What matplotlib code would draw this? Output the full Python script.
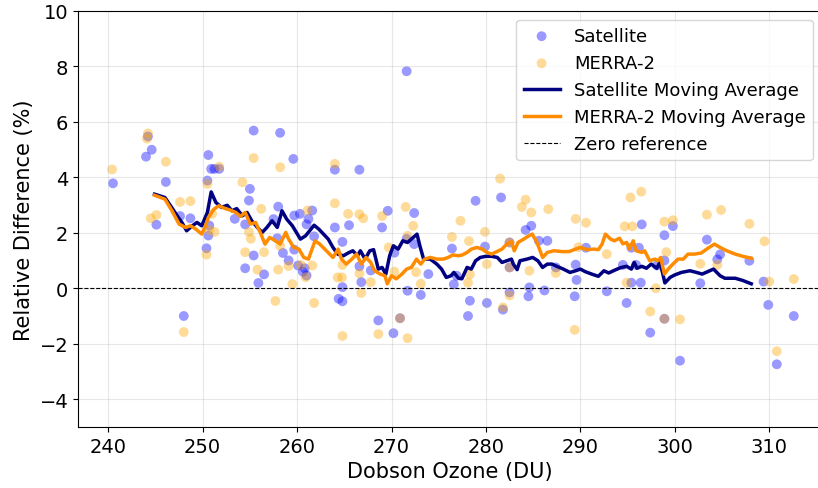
import matplotlib

matplotlib.use("Agg")
import matplotlib.pyplot as plt  # noqa: E402

# scatter points
sat_x = [240.5, 244.0, 244.2, 244.6, 245.1, 246.1, 247.6, 248.0, 248.7, 250.4,
         250.5, 250.6, 250.6, 250.7, 250.9, 251.25, 251.75, 253.4, 254.5, 254.5,
         254.9, 255.0, 255.4, 255.4, 255.9, 256.5, 257.5, 257.9, 258.0, 258.2,
         258.5, 259.1, 259.6, 259.7, 259.7, 260.1, 260.3, 260.6, 260.8, 261.0,
         261.0, 261.2, 261.6, 261.8, 264.0, 264.0, 264.4, 264.8, 264.8, 264.8,
         265.5, 266.6, 266.6, 266.8, 267.8, 268.6, 269.0, 269.6, 270.2, 270.3,
         270.9, 271.6, 271.6, 271.7, 272.4, 272.4, 273.1, 273.9, 276.4, 276.6,
         276.9, 278.1, 278.3, 278.9, 279.9, 280.1, 281.6, 281.8, 282.5, 282.5,
         282.5, 284.2, 284.5, 284.6, 284.8, 285.6, 286.2, 286.5, 287.4, 289.4,
         289.6, 289.5, 290.6, 292.8, 294.5, 294.9, 295.4, 295.4, 295.9, 296.2,
         296.4, 296.5, 297.4, 298.1, 298.9, 298.9, 298.9, 299.8, 300.55, 302.7,
         303.4, 304.5, 304.8, 307.9, 309.4, 309.9, 310.8, 312.6]
sat_y = [3.78, 4.74, 5.47, 4.99, 2.29, 3.83, 2.60, -1.00, 2.52, 1.44,
         3.88, 4.80, 1.90, 2.26, 4.30, 4.30, 4.30, 2.50, 0.72, 2.30,
         3.16, 3.58, 5.68, 1.18, 0.19, 0.50, 2.49, 1.80, 2.94, 5.60,
         1.27, 1.00, 4.66, 2.62, 1.39, 0.82, 2.68, 0.60, 0.72, 0.46,
         2.30, 2.50, 2.80, 1.87, 4.27, 2.19, -0.38, 1.67, 0.04, -0.47,
         2.27, 4.27, 0.79, 0.22, 0.64, -1.16, 2.19, 2.79, -1.62, 1.28,
         -1.08, 7.82, 1.78, -0.09, 2.71, 1.59, -0.24, 0.51, 1.43, 0.14,
         0.45, -1.00, -0.45, 3.15, 1.50, -0.53, 3.27, -0.77, -0.15, 0.75,
         1.65, 2.10, -0.29, 0.03, 2.25, 1.71, -0.08, 1.71, 0.75, -0.29,
         0.30, 0.85, 1.46, -0.11, 0.84, -0.53, 1.46, 0.20, 0.84, 1.46,
         0.20, 2.30, -1.60, 0.82, -1.10, 1.00, 1.91, 2.24, -2.61, 0.18,
         1.75, 1.04, 1.22, 0.99, 0.24, -0.60, -2.74, -1.00]

mer_x = [240.4, 244.1, 244.2, 244.5, 245.1, 246.1, 247.6, 248.0, 248.7, 250.4,
         250.5, 250.7, 251.0, 251.25, 251.75, 254.2, 254.5, 254.9, 255.1, 255.4,
         255.8, 256.2, 256.5, 257.7, 258.0, 258.2, 258.2, 259.1, 259.5, 260.4,
         260.9, 261.1, 261.6, 261.8, 264.0, 264.0, 264.3, 264.75, 264.8, 264.8,
         265.4, 266.6, 266.6, 266.8, 267.0, 267.8, 268.6, 269.0, 269.7, 270.3,
         270.9, 271.5, 271.7, 271.7, 272.3, 272.6, 273.1, 276.4, 277.3, 278.2,
         278.1, 278.3, 279.9, 280.1, 281.5, 281.8, 282.5, 282.5, 282.5, 283.8,
         284.2, 284.6, 284.8, 286.6, 287.4, 289.4, 289.5, 289.8, 290.6, 292.8,
         294.7, 294.9, 295.5, 295.3, 296.45, 297.4, 298.0, 298.9, 299.1, 298.9,
         299.8, 300.55, 302.7, 303.4, 304.5, 304.9, 307.9, 309.5, 310.0, 310.8,
         312.6]
mer_y = [4.28, 5.39, 5.58, 2.52, 2.64, 4.56, 3.11, -1.58, 3.14, 1.21,
         3.76, 2.10, 2.68, 2.03, 4.38, 3.82, 1.30, 2.03, 1.78, 4.69,
         0.67, 2.86, 1.30, -0.46, 0.67, 4.36, 1.53, 0.80, 0.15, 0.84,
         0.40, 2.80, 0.82, -0.53, 4.48, 3.06, 0.39, 0.39, 0.84, -1.72,
         2.68, 2.67, 0.53, -0.17, 2.52, 0.22, -1.65, 2.60, 1.47, 0.60,
         -1.08, 2.93, 1.89, -1.80, 2.25, 0.58, 0.16, 1.85, 2.43, 1.70,
         0.20, 0.50, 2.03, 0.87, 3.95, -0.69, -0.26, 0.75, 1.65, 2.93,
         3.19, 0.63, 2.73, 2.85, 0.55, -1.50, 2.50, 1.48, 2.36, 1.23,
         2.23, 0.20, 2.23, 3.27, 3.48, -0.84, 0.00, -1.10, 1.30, 2.40,
         2.45, -1.12, 0.88, 2.65, 0.84, 2.82, 2.32, 1.69, 0.24, -2.27,
         0.33]

# moving averages
sat_ma_x = [244.9, 246.0, 246.6, 247.3, 247.8, 248.3, 248.9, 249.4, 249.9, 250.5,
            250.9, 251.4, 252.0, 252.6, 253.1, 253.6, 254.2, 254.7, 255.2, 255.8,
            256.3, 256.8, 257.35, 257.9, 258.4, 258.9, 259.5, 260.35, 260.9, 261.8,
            262.3, 262.8, 263.3, 263.8, 264.3, 264.9, 265.4, 265.9, 266.4, 266.7,
            267.2, 267.7, 268.1, 268.6, 269.0, 269.4, 269.8, 270.2, 270.7, 271.2,
            271.7, 272.1, 272.7, 273.0, 273.4, 274.1, 274.8, 275.3, 275.8, 276.3,
            276.6, 277.1, 277.45, 278.0, 278.45, 278.9, 279.4, 280.0, 280.6, 281.2,
            281.7, 282.2, 282.7, 282.9, 283.3, 283.6, 284.35, 284.95, 285.5, 286.0,
            286.5, 287.0, 287.5, 288.2, 288.9, 289.5, 290.0, 290.5, 291.2, 291.9,
            292.5, 293.0, 293.5, 294.1, 294.35, 294.9, 295.4, 295.7, 296.0, 296.5,
            297.0, 297.5, 298.1, 298.4, 298.7, 298.95, 299.5, 300.0, 300.7, 301.6,
            302.3, 302.9, 303.5, 304.1, 304.8, 305.3, 306.4, 307.2, 308.1]
sat_ma_y = [3.39, 3.27, 2.97, 2.61, 2.37, 2.07, 2.25, 2.37, 2.25, 2.73,
            3.47, 3.09, 2.91, 2.99, 2.79, 2.87, 2.61, 2.73, 2.43, 2.19,
            2.01, 2.19, 2.43, 2.19, 2.79, 2.49, 2.25, 1.77, 1.89, 2.27,
            2.13, 1.95, 1.77, 1.47, 1.23, 1.17, 1.27, 1.35, 1.17, 1.35,
            1.05, 1.35, 1.39, 0.69, 0.75, 0.51, 1.17, 1.53, 1.41, 1.71,
            1.65, 1.77, 1.95, 1.53, 1.05, 1.05, 0.87, 0.69, 0.39, 0.45,
            0.57, 0.36, 0.34, 0.75, 0.69, 0.99, 1.11, 1.15, 1.15, 1.11,
            0.93, 0.99, 1.05, 0.87, 0.67, 0.99, 1.05, 1.11, 0.99, 0.75,
            0.87, 0.87, 0.79, 0.69, 0.57, 0.63, 0.69, 0.60, 0.51, 0.43,
            0.63, 0.55, 0.63, 0.72, 0.75, 0.79, 0.69, 0.93, 0.72, 0.79,
            0.72, 0.87, 0.72, 0.93, 0.57, 0.19, 0.39, 0.48, 0.57, 0.63,
            0.57, 0.51, 0.60, 0.69, 0.45, 0.36, 0.36, 0.28, 0.16]

mer_ma_x = [244.9, 246.0, 246.75, 247.5, 248.2, 248.7, 249.2, 249.9, 250.3, 250.6,
            251.2, 251.7, 252.4, 252.9, 253.5, 254.0, 254.5, 255.05, 255.6, 256.1,
            256.6, 257.1, 257.7, 258.2, 258.8, 259.1, 259.65, 260.2, 260.7, 261.2,
            261.9, 262.4, 263.1, 263.8, 264.35, 264.7, 265.2, 265.8, 266.3, 266.8,
            267.3, 267.8, 268.2, 268.8, 269.3, 269.55, 270.0, 270.5, 271.1, 271.6,
            272.1, 272.65, 273.1, 273.5, 274.1, 274.8, 275.5, 276.0, 276.5, 277.1,
            277.5, 278.0, 278.45, 279.05, 279.6, 280.1, 280.6, 281.7, 282.2, 282.7,
            283.0, 283.4, 284.0, 284.45, 284.9, 285.4, 286.0, 286.5, 287.2, 288.1,
            288.8, 289.5, 290.0, 290.7, 291.4, 291.9, 292.3, 292.65, 293.2, 293.6,
            294.15, 294.5, 294.9, 295.2, 295.6, 295.9, 296.5, 296.8, 297.35, 297.9,
            298.2, 298.5, 298.9, 299.3, 299.8, 300.35, 300.9, 301.4, 302.1, 302.8,
            303.5, 304.2, 304.8, 305.5, 306.4, 307.2, 308.1]
mer_ma_y = [3.35, 3.21, 2.79, 2.31, 2.19, 2.25, 2.15, 1.95, 2.25, 2.55,
            2.85, 2.97, 2.87, 2.82, 2.73, 2.59, 2.73, 2.31, 2.37, 2.01,
            1.59, 1.83, 1.71, 1.59, 2.01, 1.77, 1.47, 1.41, 1.11, 1.05,
            1.71, 1.59, 1.35, 1.11, 1.41, 1.05, 0.87, 1.05, 1.23, 0.87,
            1.11, 0.93, 0.63, 0.51, 0.45, 0.16, 0.45, 0.34, 0.51, 0.69,
            0.75, 1.05, 0.87, 1.05, 1.11, 1.05, 1.05, 1.11, 1.20, 1.17,
            1.20, 1.29, 1.41, 1.47, 1.41, 1.29, 1.23, 1.41, 1.59, 1.68,
            1.35, 1.65, 1.77, 1.87, 1.95, 1.65, 1.11, 1.29, 1.35, 1.32,
            1.32, 1.41, 1.47, 1.39, 1.41, 1.39, 1.59, 1.95, 1.77, 1.71,
            1.80, 1.60, 1.65, 1.41, 1.71, 1.35, 1.29, 1.35, 0.99, 1.05,
            0.99, 1.11, 0.51, 0.69, 0.87, 1.05, 1.05, 1.23, 1.23, 1.27,
            1.44, 1.59, 1.47, 1.35, 1.23, 1.15, 1.08]

fig = plt.figure(figsize=(8.18, 4.89), dpi=100)
# reference is cropped at the right edge, so the right spine sits just off-canvas
ax = fig.add_axes([0.0954, 0.1247, 0.9096, 0.8514])

ax.scatter(sat_x, sat_y, s=50, color="blue", alpha=0.4, edgecolors="none", label="Satellite")
ax.scatter(mer_x, mer_y, s=50, color="orange", alpha=0.4, edgecolors="none", label="MERRA-2")
ax.plot(sat_ma_x, sat_ma_y, color="navy", linewidth=2.5, label="Satellite Moving Average")
ax.plot(mer_ma_x, mer_ma_y, color="darkorange", linewidth=2.5, label="MERRA-2 Moving Average")
ax.axhline(0, color="black", linestyle="--", linewidth=0.8, label="Zero reference")

ax.set_xlim(236.8, 315.6)
ax.set_ylim(-5, 10)
ax.set_xticks([240, 250, 260, 270, 280, 290, 300, 310])
ax.set_yticks([-4, -2, 0, 2, 4, 6, 8, 10])
ax.tick_params(labelsize=14)
ax.set_xlabel("Dobson Ozone (DU)", fontsize=15)
ax.set_ylabel("Relative Difference (%)", fontsize=15)
ax.grid(True, alpha=0.3)
ax.legend(loc="upper right", fontsize=13)

fig.savefig("out.png", dpi=100)
